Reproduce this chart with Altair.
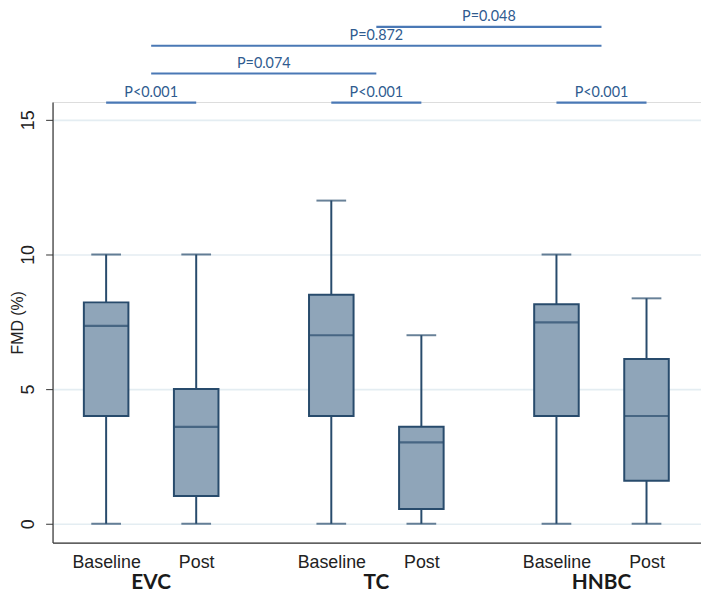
import altair as alt
import pandas as pd

# ---- data ----
groups = ["EVC", "TC", "HNBC"]
conditions = ["Baseline", "Post"]
lower = [0, 0, 0, 0, 0, 0]
q1 = [4.0, 1.03, 4.0, 0.55, 4.0, 1.6]
median = [7.35, 3.6, 7.0, 3.02, 7.48, 4.0]
q3 = [8.22, 5.0, 8.5, 3.6, 8.15, 6.12]
upper = [10, 10, 12, 7, 10, 8.37]

sig_labels = ["P<0.001", "P<0.001", "P<0.001", "P=0.074", "P=0.872", "P=0.048"]
sig_from = ["EVC|Baseline", "TC|Baseline", "HNBC|Baseline", "EVC", "EVC", "TC"]
sig_to = ["EVC|Post", "TC|Post", "HNBC|Post", "TC", "HNBC", "HNBC"]
sig_tier = [0, 0, 0, 1, 2, 3]

# ---- layout ----
GROUP_STEP = 2.5
tier_y = [15.64, 16.72, 17.75, 18.45]
W, H = 655, 445
Y_DOM = [-0.70, 15.66]
X_DOM = [-0.54, 6.55]

rows = []
k = 0
for gi, g in enumerate(groups):
    for ci, c in enumerate(conditions):
        rows.append(dict(group=g, cond=c, pos=gi * GROUP_STEP + ci,
                         lower=lower[k], q1=q1[k], median=median[k],
                         q3=q3[k], upper=upper[k]))
        k += 1
df = pd.DataFrame(rows)

def position(key):
    if "|" in key:
        g, c = key.split("|")
        return groups.index(g) * GROUP_STEP + conditions.index(c)
    return groups.index(key) * GROUP_STEP + 0.5

sig = pd.DataFrame(dict(
    label=sig_labels,
    x1=[position(a) for a in sig_from],
    x2=[position(b) for b in sig_to],
    y=[tier_y[t] for t in sig_tier],
))
sig["xm"] = (sig["x1"] + sig["x2"]) / 2

grp = pd.DataFrame(dict(group=groups,
                        pos=[gi * GROUP_STEP + 0.5 for gi in range(len(groups))]))

tick_pos = list(df["pos"])
label_expr = " : ".join(
    [f"datum.value == {p} ? '{c}'" for p, c in zip(df["pos"], df["cond"])]
) + " : ''"

DARK = "#284b6c"
FILL = "#8fa5b9"
SIG = "#4a78b5"
SIGTXT = "#2f5b8f"

xs = alt.Scale(domain=X_DOM, nice=False, zero=False)
ys = alt.Scale(domain=Y_DOM, nice=False, zero=False)

x_axis = alt.Axis(values=tick_pos, labelExpr=label_expr, ticks=False, tickSize=0,
                  grid=False, domainColor="#333333", domainWidth=1.2,
                  labelFont="Liberation Sans", labelFontSize=18, labelColor="#222222",
                  labelBaseline="middle", labelPadding=20, title=None, labelFlush=False)
y_axis = alt.Axis(values=[0, 5, 10, 15], grid=True, gridColor="#e4edf2", gridWidth=1.6,
                  domainColor="#333333", domainWidth=1.2, tickColor="#333333",
                  tickSize=7, labelAngle=270, labelAlign="center", labelBaseline="middle",
                  labelPadding=17, labelFont="Liberation Sans", labelFontSize=18,
                  labelColor="#222222", title="FMD (%)", titleFont="Liberation Sans",
                  titleFontSize=16, titleFontWeight="normal", titleColor="#222222",
                  titleAngle=270, titleAlign="center", titleBaseline="middle",
                  titleX=-35, titleY=H / 2, labelFlush=False)

base = alt.Chart(df)

whisker = base.mark_rule(color=DARK, strokeWidth=2).encode(
    x=alt.X("pos:Q", scale=xs, axis=x_axis),
    y=alt.Y("lower:Q", scale=ys, axis=y_axis),
    y2="upper:Q",
)
cap_hi = base.mark_tick(color=DARK, size=30, thickness=2, orient="horizontal").encode(
    x=alt.X("pos:Q", scale=xs), y=alt.Y("upper:Q", scale=ys))
cap_lo = base.mark_tick(color=DARK, size=30, thickness=2, orient="horizontal").encode(
    x=alt.X("pos:Q", scale=xs), y=alt.Y("lower:Q", scale=ys))
box = base.mark_bar(size=45, fill=FILL, stroke=DARK, strokeWidth=2, opacity=1).encode(
    x=alt.X("pos:Q", scale=xs), y=alt.Y("q1:Q", scale=ys), y2="q3:Q")
med = base.mark_tick(color=DARK, size=45, thickness=2.2, orient="horizontal").encode(
    x=alt.X("pos:Q", scale=xs), y=alt.Y("median:Q", scale=ys))

sig_base = alt.Chart(sig)
sig_lines = sig_base.mark_rule(color=SIG, strokeWidth=2.2).encode(
    x=alt.X("x1:Q", scale=xs), x2="x2:Q", y=alt.Y("y:Q", scale=ys))
sig_text = sig_base.mark_text(color=SIGTXT, font="Lato", fontSize=14.5, dy=-10,
                              baseline="middle", align="center").encode(
    x=alt.X("xm:Q", scale=xs), y=alt.Y("y:Q", scale=ys), text="label:N")

grp_text = alt.Chart(grp).mark_text(font="Lato", fontWeight="bold", fontSize=21,
                                    color="#1a1a1a", baseline="middle", align="center",
                                    dy=41).encode(
    x=alt.X("pos:Q", scale=xs), y=alt.value(H), text="group:N")

chart = alt.layer(whisker, cap_hi, cap_lo, box, med, sig_lines, sig_text, grp_text).properties(
    width=W, height=H,
    autosize=alt.AutoSizeParams(type="none"),
    padding={"left": 45, "top": 92, "right": 0, "bottom": 53},
).configure_view(stroke=None).configure(background="white")

chart.save("out.html", embed_options={"renderer": "svg", "actions": False})
